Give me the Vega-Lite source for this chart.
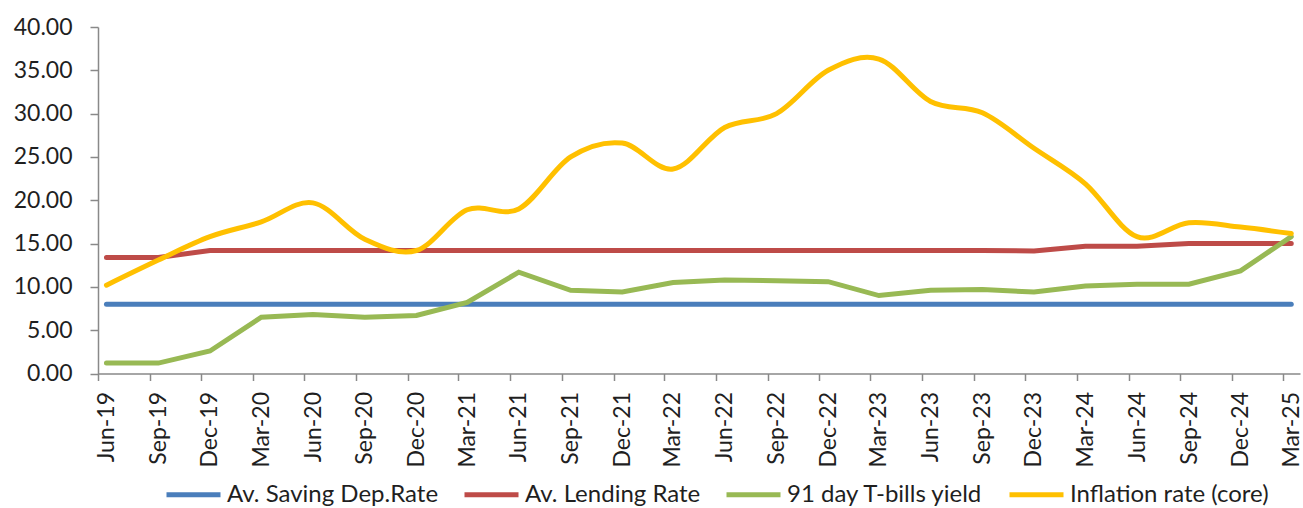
{
  "$schema": "https://vega.github.io/schema/vega-lite/v6.json",
  "width": 1202,
  "height": 346.5,
  "autosize": {"type": "none"},
  "padding": {"left": 98, "top": 27, "right": 3, "bottom": 134.5},
  "config": {"view": {"stroke": null}, "font": "Lato"},
  "data": {"values": [
    {"month": "2019-06", "series": "Av. Saving Dep.Rate", "rate": 8.0},
    {"month": "2019-09", "series": "Av. Saving Dep.Rate", "rate": 8.0},
    {"month": "2019-12", "series": "Av. Saving Dep.Rate", "rate": 8.0},
    {"month": "2020-03", "series": "Av. Saving Dep.Rate", "rate": 8.0},
    {"month": "2020-06", "series": "Av. Saving Dep.Rate", "rate": 8.0},
    {"month": "2020-09", "series": "Av. Saving Dep.Rate", "rate": 8.0},
    {"month": "2020-12", "series": "Av. Saving Dep.Rate", "rate": 8.0},
    {"month": "2021-03", "series": "Av. Saving Dep.Rate", "rate": 8.0},
    {"month": "2021-06", "series": "Av. Saving Dep.Rate", "rate": 8.0},
    {"month": "2021-09", "series": "Av. Saving Dep.Rate", "rate": 8.0},
    {"month": "2021-12", "series": "Av. Saving Dep.Rate", "rate": 8.0},
    {"month": "2022-03", "series": "Av. Saving Dep.Rate", "rate": 8.0},
    {"month": "2022-06", "series": "Av. Saving Dep.Rate", "rate": 8.0},
    {"month": "2022-09", "series": "Av. Saving Dep.Rate", "rate": 8.0},
    {"month": "2022-12", "series": "Av. Saving Dep.Rate", "rate": 8.0},
    {"month": "2023-03", "series": "Av. Saving Dep.Rate", "rate": 8.0},
    {"month": "2023-06", "series": "Av. Saving Dep.Rate", "rate": 8.0},
    {"month": "2023-09", "series": "Av. Saving Dep.Rate", "rate": 8.0},
    {"month": "2023-12", "series": "Av. Saving Dep.Rate", "rate": 8.0},
    {"month": "2024-03", "series": "Av. Saving Dep.Rate", "rate": 8.0},
    {"month": "2024-06", "series": "Av. Saving Dep.Rate", "rate": 8.0},
    {"month": "2024-09", "series": "Av. Saving Dep.Rate", "rate": 8.0},
    {"month": "2024-12", "series": "Av. Saving Dep.Rate", "rate": 8.0},
    {"month": "2025-03", "series": "Av. Saving Dep.Rate", "rate": 8.0},
    {"month": "2019-06", "series": "Av. Lending Rate", "rate": 13.4},
    {"month": "2019-09", "series": "Av. Lending Rate", "rate": 13.4},
    {"month": "2019-12", "series": "Av. Lending Rate", "rate": 14.2},
    {"month": "2020-03", "series": "Av. Lending Rate", "rate": 14.2},
    {"month": "2020-06", "series": "Av. Lending Rate", "rate": 14.2},
    {"month": "2020-09", "series": "Av. Lending Rate", "rate": 14.2},
    {"month": "2020-12", "series": "Av. Lending Rate", "rate": 14.2},
    {"month": "2021-03", "series": "Av. Lending Rate", "rate": 14.2},
    {"month": "2021-06", "series": "Av. Lending Rate", "rate": 14.2},
    {"month": "2021-09", "series": "Av. Lending Rate", "rate": 14.2},
    {"month": "2021-12", "series": "Av. Lending Rate", "rate": 14.2},
    {"month": "2022-03", "series": "Av. Lending Rate", "rate": 14.2},
    {"month": "2022-06", "series": "Av. Lending Rate", "rate": 14.2},
    {"month": "2022-09", "series": "Av. Lending Rate", "rate": 14.2},
    {"month": "2022-12", "series": "Av. Lending Rate", "rate": 14.2},
    {"month": "2023-03", "series": "Av. Lending Rate", "rate": 14.2},
    {"month": "2023-06", "series": "Av. Lending Rate", "rate": 14.2},
    {"month": "2023-09", "series": "Av. Lending Rate", "rate": 14.2},
    {"month": "2023-12", "series": "Av. Lending Rate", "rate": 14.15},
    {"month": "2024-03", "series": "Av. Lending Rate", "rate": 14.7},
    {"month": "2024-06", "series": "Av. Lending Rate", "rate": 14.7},
    {"month": "2024-09", "series": "Av. Lending Rate", "rate": 15.0},
    {"month": "2024-12", "series": "Av. Lending Rate", "rate": 15.0},
    {"month": "2025-03", "series": "Av. Lending Rate", "rate": 15.0},
    {"month": "2019-06", "series": "91 day T-bills yield", "rate": 1.2},
    {"month": "2019-09", "series": "91 day T-bills yield", "rate": 1.2},
    {"month": "2019-12", "series": "91 day T-bills yield", "rate": 2.6},
    {"month": "2020-03", "series": "91 day T-bills yield", "rate": 6.5},
    {"month": "2020-06", "series": "91 day T-bills yield", "rate": 6.8},
    {"month": "2020-09", "series": "91 day T-bills yield", "rate": 6.5},
    {"month": "2020-12", "series": "91 day T-bills yield", "rate": 6.7},
    {"month": "2021-03", "series": "91 day T-bills yield", "rate": 8.2},
    {"month": "2021-06", "series": "91 day T-bills yield", "rate": 11.7},
    {"month": "2021-09", "series": "91 day T-bills yield", "rate": 9.6},
    {"month": "2021-12", "series": "91 day T-bills yield", "rate": 9.4},
    {"month": "2022-03", "series": "91 day T-bills yield", "rate": 10.5},
    {"month": "2022-06", "series": "91 day T-bills yield", "rate": 10.8},
    {"month": "2022-09", "series": "91 day T-bills yield", "rate": 10.7},
    {"month": "2022-12", "series": "91 day T-bills yield", "rate": 10.6},
    {"month": "2023-03", "series": "91 day T-bills yield", "rate": 9.0},
    {"month": "2023-06", "series": "91 day T-bills yield", "rate": 9.6},
    {"month": "2023-09", "series": "91 day T-bills yield", "rate": 9.7},
    {"month": "2023-12", "series": "91 day T-bills yield", "rate": 9.4},
    {"month": "2024-03", "series": "91 day T-bills yield", "rate": 10.1},
    {"month": "2024-06", "series": "91 day T-bills yield", "rate": 10.3},
    {"month": "2024-09", "series": "91 day T-bills yield", "rate": 10.3},
    {"month": "2024-12", "series": "91 day T-bills yield", "rate": 11.85},
    {"month": "2025-03", "series": "91 day T-bills yield", "rate": 15.8},
    {"month": "2019-06", "series": "Inflation rate (core)", "rate": 10.2},
    {"month": "2019-09", "series": "Inflation rate (core)", "rate": 13.1},
    {"month": "2019-12", "series": "Inflation rate (core)", "rate": 15.8},
    {"month": "2020-03", "series": "Inflation rate (core)", "rate": 17.5},
    {"month": "2020-06", "series": "Inflation rate (core)", "rate": 19.7},
    {"month": "2020-09", "series": "Inflation rate (core)", "rate": 15.5},
    {"month": "2020-12", "series": "Inflation rate (core)", "rate": 14.2},
    {"month": "2021-03", "series": "Inflation rate (core)", "rate": 18.9},
    {"month": "2021-06", "series": "Inflation rate (core)", "rate": 19.0},
    {"month": "2021-09", "series": "Inflation rate (core)", "rate": 25.0},
    {"month": "2021-12", "series": "Inflation rate (core)", "rate": 26.6},
    {"month": "2022-03", "series": "Inflation rate (core)", "rate": 23.6},
    {"month": "2022-06", "series": "Inflation rate (core)", "rate": 28.4},
    {"month": "2022-09", "series": "Inflation rate (core)", "rate": 30.0},
    {"month": "2022-12", "series": "Inflation rate (core)", "rate": 35.0},
    {"month": "2023-03", "series": "Inflation rate (core)", "rate": 36.3},
    {"month": "2023-06", "series": "Inflation rate (core)", "rate": 31.4},
    {"month": "2023-09", "series": "Inflation rate (core)", "rate": 30.1},
    {"month": "2023-12", "series": "Inflation rate (core)", "rate": 26.0},
    {"month": "2024-03", "series": "Inflation rate (core)", "rate": 21.9},
    {"month": "2024-06", "series": "Inflation rate (core)", "rate": 15.8},
    {"month": "2024-09", "series": "Inflation rate (core)", "rate": 17.4},
    {"month": "2024-12", "series": "Inflation rate (core)", "rate": 16.9},
    {"month": "2025-03", "series": "Inflation rate (core)", "rate": 16.15}
  ]},
  "encoding": {
    "x": {
      "field": "month",
      "type": "temporal",
      "timeUnit": "utcyearmonth",
      "bandPosition": 0.5,
      "scale": {"type": "utc", "domain": [
        {"year": 2019, "month": 6, "date": 1, "utc": true},
        {"year": 2025, "month": 4, "date": 1, "utc": true}
      ]},
      "axis": {
        "title": null,
        "values": [
          {"year": 2019, "month": 6, "date": 1, "utc": true},
          {"year": 2019, "month": 9, "date": 1, "utc": true},
          {"year": 2019, "month": 12, "date": 1, "utc": true},
          {"year": 2020, "month": 3, "date": 1, "utc": true},
          {"year": 2020, "month": 6, "date": 1, "utc": true},
          {"year": 2020, "month": 9, "date": 1, "utc": true},
          {"year": 2020, "month": 12, "date": 1, "utc": true},
          {"year": 2021, "month": 3, "date": 1, "utc": true},
          {"year": 2021, "month": 6, "date": 1, "utc": true},
          {"year": 2021, "month": 9, "date": 1, "utc": true},
          {"year": 2021, "month": 12, "date": 1, "utc": true},
          {"year": 2022, "month": 3, "date": 1, "utc": true},
          {"year": 2022, "month": 6, "date": 1, "utc": true},
          {"year": 2022, "month": 9, "date": 1, "utc": true},
          {"year": 2022, "month": 12, "date": 1, "utc": true},
          {"year": 2023, "month": 3, "date": 1, "utc": true},
          {"year": 2023, "month": 6, "date": 1, "utc": true},
          {"year": 2023, "month": 9, "date": 1, "utc": true},
          {"year": 2023, "month": 12, "date": 1, "utc": true},
          {"year": 2024, "month": 3, "date": 1, "utc": true},
          {"year": 2024, "month": 6, "date": 1, "utc": true},
          {"year": 2024, "month": 9, "date": 1, "utc": true},
          {"year": 2024, "month": 12, "date": 1, "utc": true},
          {"year": 2025, "month": 3, "date": 1, "utc": true}
        ],
        "labelExpr": "utcFormat(datum.value, '%b-%y')",
        "labelAngle": -90,
        "labelAlign": "right",
        "labelBaseline": "middle",
        "labelOffset": 8.6,
        "labelPadding": 11,
        "labelFontSize": 23,
        "labelColor": "#1f1f1f",
        "labelFont": "Lato",
        "labelOverlap": false,
        "labelFlush": false,
        "tickSize": 7,
        "tickColor": "#898989",
        "tickWidth": 1.5,
        "domainColor": "#898989",
        "domainWidth": 1.5,
        "grid": false
      }
    },
    "y": {
      "field": "rate",
      "type": "quantitative",
      "scale": {"domain": [0, 40], "nice": false, "zero": true},
      "axis": {
        "title": null,
        "values": [0, 5, 10, 15, 20, 25, 30, 35, 40],
        "format": ".2f",
        "labelPadding": 18,
        "labelFontSize": 23,
        "labelColor": "#1f1f1f",
        "labelFont": "Lato",
        "labelFlush": false,
        "tickSize": 8,
        "tickColor": "#898989",
        "tickWidth": 1.5,
        "domainColor": "#898989",
        "domainWidth": 1.5,
        "grid": false
      }
    },
    "color": {
      "field": "series",
      "type": "nominal",
      "scale": {
        "domain": ["Av. Saving Dep.Rate", "Av. Lending Rate", "91 day T-bills yield", "Inflation rate (core)"],
        "range": ["#4A7EBB", "#BE4B48", "#98B954", "#FFC000"]
      },
      "legend": {
        "title": null,
        "orient": "none",
        "direction": "horizontal",
        "legendX": 66,
        "legendY": 438,
        "symbolType": "stroke",
        "symbolSize": 2916,
        "symbolStrokeWidth": 5,
        "labelFontSize": 24,
        "labelFont": "Lato",
        "labelColor": "#1f1f1f",
        "labelOffset": 4,
        "columnPadding": 15,
        "labelLimit": 400
      }
    }
  },
  "layer": [
    {
      "transform": [{"filter": "datum.series !== 'Inflation rate (core)'"}],
      "mark": {"type": "line", "strokeWidth": 5, "strokeCap": "round", "interpolate": "linear"}
    },
    {
      "transform": [{"filter": "datum.series === 'Inflation rate (core)'"}],
      "mark": {"type": "line", "strokeWidth": 5, "strokeCap": "round", "interpolate": "cardinal"}
    }
  ]
}
